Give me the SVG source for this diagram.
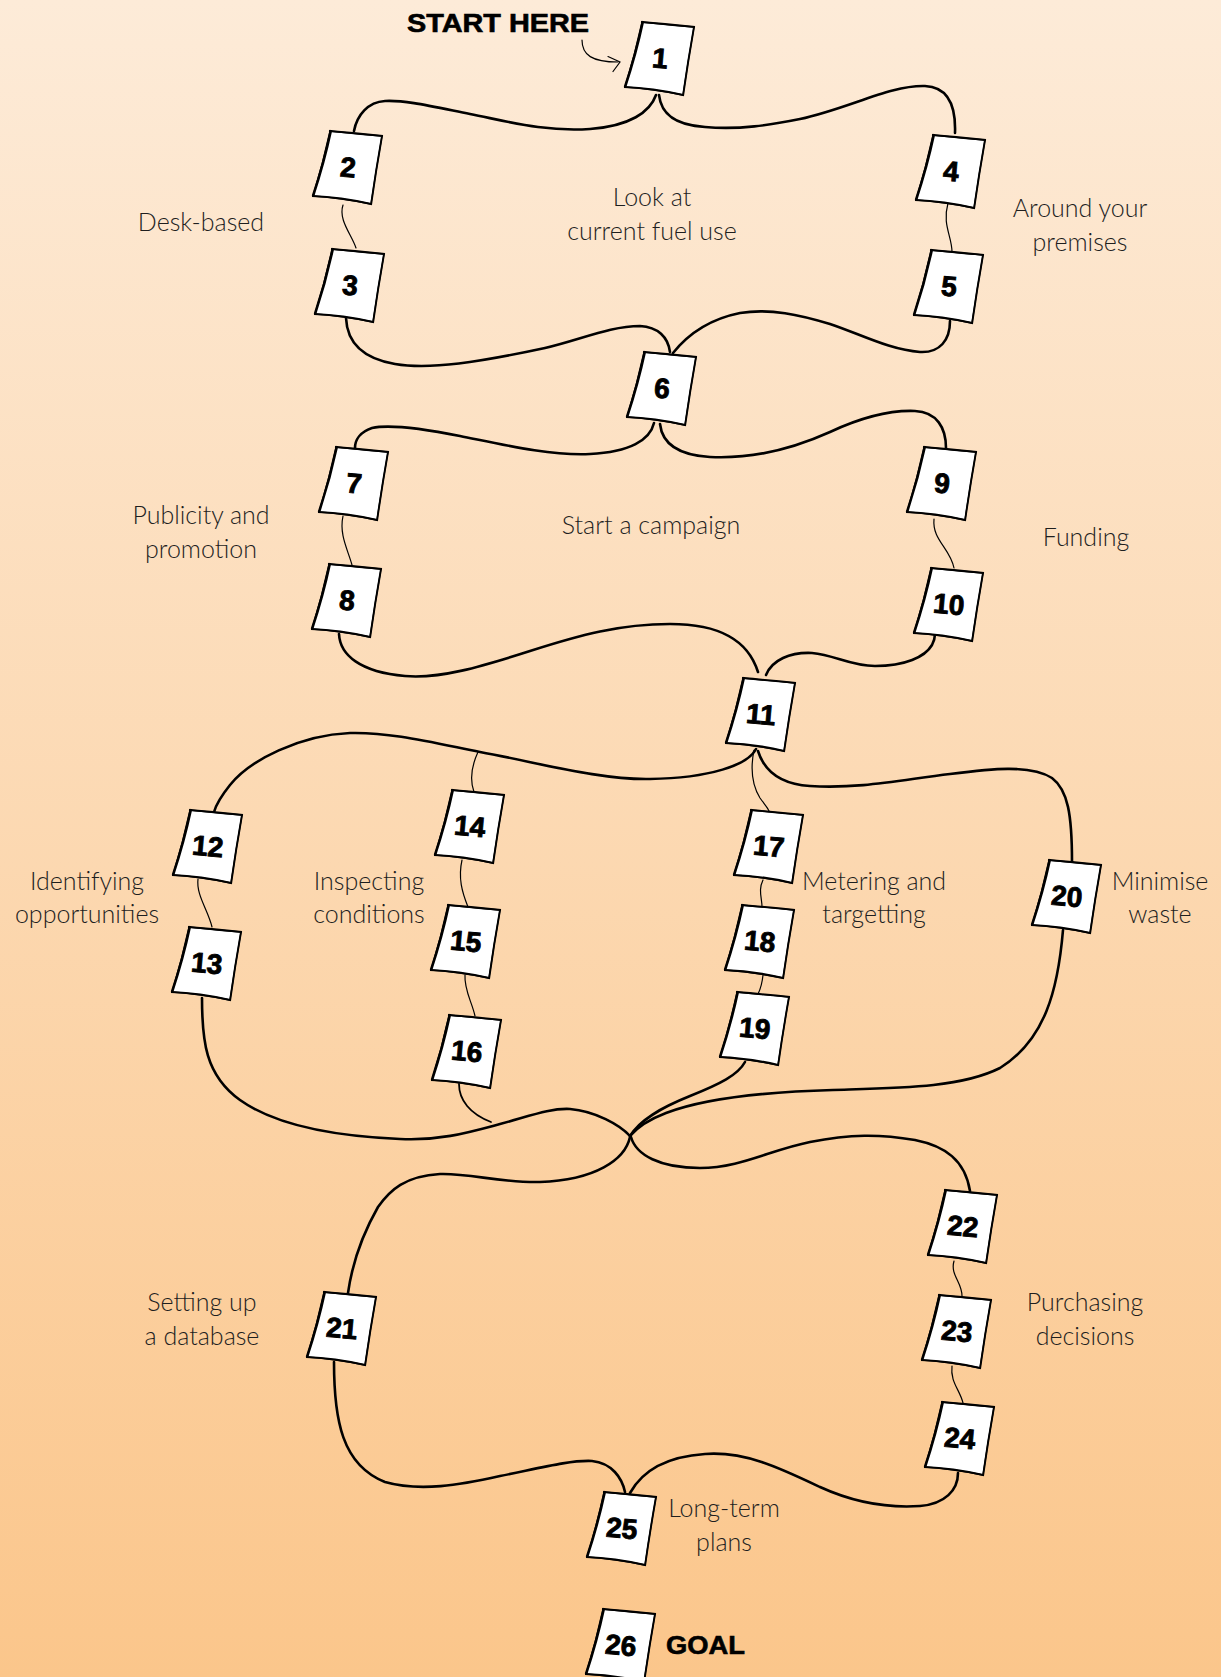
<svg xmlns="http://www.w3.org/2000/svg" width="1221" height="1677" viewBox="0 0 1221 1677">
<style>
.lbl{font-family:Lato,"Open Sans","Liberation Sans",sans-serif;font-weight:300;font-size:25px;fill:#1e1e1e;text-anchor:middle}
.num{font-family:"Liberation Sans",Arial,sans-serif;font-weight:bold;font-size:28px;fill:#000;stroke:#000;stroke-width:0.9;text-anchor:middle}
.big{font-family:"Liberation Sans",Arial,sans-serif;font-weight:bold;fill:#000;stroke:#000;stroke-width:0.6}
.thick{fill:none;stroke:#000;stroke-width:2.6;stroke-linecap:round}
.thin{fill:none;stroke:#000;stroke-width:1.2;stroke-linecap:round}
.mid{fill:none;stroke:#000;stroke-width:1.8;stroke-linecap:round}
</style>
<defs>
<linearGradient id="bg" x1="0" y1="0" x2="0" y2="1">
<stop offset="0" stop-color="#fdebd8"/>
<stop offset="1" stop-color="#fbc68b"/>
</linearGradient>
<g id="card">
<path d="M-18,-36 Q8,-33 34,-31 Q28,3 23,37 Q-7,31 -35,29 Q-25,-4 -18,-36Z" fill="#fff" stroke="#000" stroke-width="1.3"/>
<path d="M-17,-37 Q-24,-4 -35,29" fill="none" stroke="#000" stroke-width="2.6"/>
<path d="M-36,29 Q-7,30 23,37" fill="none" stroke="#000" stroke-width="2.2"/>
<path d="M34,-31 Q28,3 23,38" fill="none" stroke="#000" stroke-width="1.9"/>
<path d="M-19,-36 Q8,-34 35,-31" fill="none" stroke="#000" stroke-width="1.8"/>
</g>
</defs>
<rect x="0" y="0" width="1221" height="1677" fill="url(#bg)"/>

<g id="connectors">
<path class="thin" d="M582,40 C582,55 592,62 618,62"/>
<polyline class="thin" points="608,56.5 620,62 613,71.5"/>
<path class="thick" d="M656,95 C650,112 630,126 590,129 C545,132 510,122 470,114 C430,106 405,100 385,101 C368,102 357,115 354,131"/>
<path class="thick" d="M659,95 C661,112 672,125 705,127 C740,130 770,125 800,119 C850,108 890,85 925,86 C948,87 956,105 955,133"/>
<path class="thin" d="M343,205 C338,220 352,235 356,248"/>
<path class="thin" d="M948,203 C942,225 952,236 952,252"/>
<path class="thick" d="M346,318 C347,340 360,358 395,364 C430,370 480,362 545,348 C580,340 610,326 640,326 C658,327 668,337 670,352"/>
<path class="thick" d="M673,353 C685,338 705,320 740,313 C770,308 800,315 830,324 C860,334 890,350 920,352 C940,353 950,340 950,321"/>
<path class="thick" d="M654,423 C650,440 630,452 590,454 C550,456 500,444 460,436 C420,428 390,424 372,428 C360,432 355,440 355,448"/>
<path class="thick" d="M660,424 C662,442 676,455 710,457 C750,459 790,450 830,432 C860,418 890,410 915,411 C937,412 946,428 946,448"/>
<path class="thin" d="M343,516 C339,535 348,550 352,565"/>
<path class="thin" d="M934,519 C932,540 950,548 954,568"/>
<path class="thick" d="M339,634 C340,655 360,672 405,676 C440,679 480,667 530,651 C580,635 620,624 670,624 C720,624 748,640 758,672"/>
<path class="thick" d="M766,675 C772,660 790,652 812,653 C835,655 850,666 875,666 C905,666 925,657 932,645 C934,641 935,638 935,634"/>
<path class="thick" d="M756,749 C748,765 710,778 650,779 C600,780 540,763 480,752 C430,742 390,732 350,733 C300,735 250,760 230,785 C222,795 216,805 214,812"/>
<path class="thin" d="M478,752 C472,765 469,778 474,792"/>
<path class="thin" d="M754,750 C750,770 752,785 760,798 C765,805 768,808 769,811"/>
<path class="thick" d="M758,751 C764,770 778,784 810,786 C860,789 900,780 950,774 C990,769 1030,764 1052,778 C1068,790 1072,815 1072,862"/>
<path class="thin" d="M198,879 C196,895 208,910 212,927"/>
<path class="thin" d="M462,860 C458,878 462,892 468,907"/>
<path class="thin" d="M465,975 C464,990 472,1002 475,1016"/>
<path class="thin" d="M763,880 C758,890 762,898 762,907"/>
<path class="thin" d="M763,975 C762,985 760,990 758,994"/>
<path class="thick" d="M202,998 C202,1040 205,1075 240,1100 C275,1125 330,1136 400,1139 C440,1141 470,1132 500,1124 C530,1116 550,1108 570,1109 C595,1111 620,1125 630,1136"/>
<path class="mid" d="M459,1084 C459,1100 470,1114 491,1122"/>
<path class="thick" d="M745,1062 C738,1075 720,1084 690,1096 C660,1108 640,1120 630,1136"/>
<path class="thick" d="M1063,930 C1058,990 1045,1040 1000,1068 C960,1088 900,1088 833,1090 C760,1092 700,1100 666,1113 C645,1121 635,1130 630,1136"/>
<path class="thick" d="M630,1137 C625,1160 595,1180 540,1182 C500,1183 470,1173 440,1174 C405,1176 390,1190 378,1207 C362,1235 352,1265 348,1293"/>
<path class="thick" d="M631,1137 C636,1155 660,1168 700,1168 C740,1168 770,1150 810,1142 C850,1134 880,1134 915,1140 C945,1146 965,1160 970,1191"/>
<path class="thin" d="M954,1261 C950,1275 962,1282 962,1296"/>
<path class="thin" d="M952,1366 C950,1382 960,1390 963,1403"/>
<path class="thick" d="M334,1362 C334,1420 342,1465 385,1482 C420,1492 460,1485 500,1476 C540,1468 570,1460 592,1461 C612,1463 622,1478 625,1492"/>
<path class="thick" d="M630,1493 C640,1475 660,1457 705,1454 C745,1451 780,1468 820,1487 C855,1503 890,1508 920,1506 C945,1504 958,1490 958,1473"/>
</g>

<g id="n1" transform="translate(660,58)"><use href="#card"/><text class="num" x="0" y="10" transform="rotate(5)">1</text></g>
<g id="n2" transform="translate(348,167)"><use href="#card"/><text class="num" x="0" y="10" transform="rotate(5)">2</text></g>
<g id="n3" transform="translate(350,285)"><use href="#card"/><text class="num" x="0" y="10" transform="rotate(5)">3</text></g>
<g id="n4" transform="translate(951,171)"><use href="#card"/><text class="num" x="0" y="10" transform="rotate(5)">4</text></g>
<g id="n5" transform="translate(949,286)"><use href="#card"/><text class="num" x="0" y="10" transform="rotate(5)">5</text></g>
<g id="n6" transform="translate(662,388)"><use href="#card"/><text class="num" x="0" y="10" transform="rotate(5)">6</text></g>
<g id="n7" transform="translate(354,483)"><use href="#card"/><text class="num" x="0" y="10" transform="rotate(5)">7</text></g>
<g id="n8" transform="translate(347,600)"><use href="#card"/><text class="num" x="0" y="10" transform="rotate(5)">8</text></g>
<g id="n9" transform="translate(942,483)"><use href="#card"/><text class="num" x="0" y="10" transform="rotate(5)">9</text></g>
<g id="n10" transform="translate(949,604)"><use href="#card"/><text class="num" x="0" y="10" transform="rotate(5)">10</text></g>
<g id="n11" transform="translate(761,714)"><use href="#card"/><text class="num" x="0" y="10" transform="rotate(5)">11</text></g>
<g id="n12" transform="translate(208,846)"><use href="#card"/><text class="num" x="0" y="10" transform="rotate(5)">12</text></g>
<g id="n13" transform="translate(207,963)"><use href="#card"/><text class="num" x="0" y="10" transform="rotate(5)">13</text></g>
<g id="n14" transform="translate(470,826)"><use href="#card"/><text class="num" x="0" y="10" transform="rotate(5)">14</text></g>
<g id="n15" transform="translate(466,941)"><use href="#card"/><text class="num" x="0" y="10" transform="rotate(5)">15</text></g>
<g id="n16" transform="translate(467,1051)"><use href="#card"/><text class="num" x="0" y="10" transform="rotate(5)">16</text></g>
<g id="n17" transform="translate(769,846)"><use href="#card"/><text class="num" x="0" y="10" transform="rotate(5)">17</text></g>
<g id="n18" transform="translate(760,941)"><use href="#card"/><text class="num" x="0" y="10" transform="rotate(5)">18</text></g>
<g id="n19" transform="translate(755,1028)"><use href="#card"/><text class="num" x="0" y="10" transform="rotate(5)">19</text></g>
<g id="n20" transform="translate(1067,896)"><use href="#card"/><text class="num" x="0" y="10" transform="rotate(5)">20</text></g>
<g id="n21" transform="translate(342,1328)"><use href="#card"/><text class="num" x="0" y="10" transform="rotate(5)">21</text></g>
<g id="n22" transform="translate(963,1226)"><use href="#card"/><text class="num" x="0" y="10" transform="rotate(5)">22</text></g>
<g id="n23" transform="translate(957,1331)"><use href="#card"/><text class="num" x="0" y="10" transform="rotate(5)">23</text></g>
<g id="n24" transform="translate(960,1438)"><use href="#card"/><text class="num" x="0" y="10" transform="rotate(5)">24</text></g>
<g id="n25" transform="translate(622,1528)"><use href="#card"/><text class="num" x="0" y="10" transform="rotate(5)">25</text></g>
<g id="n26" transform="translate(621,1645)"><use href="#card"/><text class="num" x="0" y="10" transform="rotate(5)">26</text></g>

<g id="labels">
<text class="big" x="407" y="32" font-size="25" textLength="182" lengthAdjust="spacingAndGlyphs">START HERE</text>
<text class="big" x="666" y="1654" font-size="26" textLength="79" lengthAdjust="spacingAndGlyphs">GOAL</text>
<text class="lbl" x="652" y="206">Look at</text>
<text class="lbl" x="652" y="240">current fuel use</text>
<text class="lbl" x="201" y="231">Desk-based</text>
<text class="lbl" x="1080" y="217">Around your</text>
<text class="lbl" x="1080" y="251">premises</text>
<text class="lbl" x="201" y="524">Publicity and</text>
<text class="lbl" x="201" y="558">promotion</text>
<text class="lbl" x="651" y="534">Start a campaign</text>
<text class="lbl" x="1086" y="546">Funding</text>
<text class="lbl" x="87" y="890">Identifying</text>
<text class="lbl" x="87" y="923">opportunities</text>
<text class="lbl" x="369" y="890">Inspecting</text>
<text class="lbl" x="369" y="923">conditions</text>
<text class="lbl" x="874" y="890">Metering and</text>
<text class="lbl" x="874" y="923">targetting</text>
<text class="lbl" x="1160" y="890">Minimise</text>
<text class="lbl" x="1160" y="923">waste</text>
<text class="lbl" x="202" y="1311">Setting up</text>
<text class="lbl" x="202" y="1345">a database</text>
<text class="lbl" x="1085" y="1311">Purchasing</text>
<text class="lbl" x="1085" y="1345">decisions</text>
<text class="lbl" x="724" y="1517">Long-term</text>
<text class="lbl" x="724" y="1551">plans</text>
</g>
</svg>
